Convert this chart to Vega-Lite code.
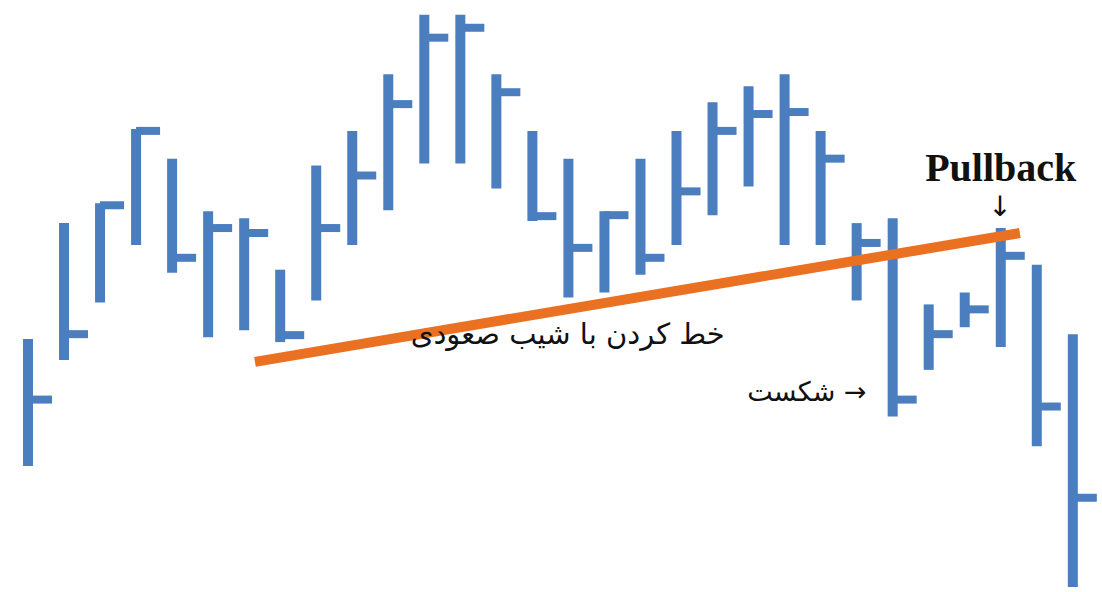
{
  "$schema": "https://vega.github.io/schema/vega-lite/v6.json",
  "autosize": {"type": "fit", "contains": "padding"},
  "width": 1102,
  "height": 592,
  "padding": 0,
  "background": "white",
  "config": {"view": {"stroke": null}, "axis": {"disable": true}},
  "datasets": {
    "bars": [
      {"i": 1, "high": 250, "low": 122, "close": 189},
      {"i": 2, "high": 367, "low": 229, "close": 255},
      {"i": 3, "high": 387, "low": 287, "close": 385},
      {"i": 4, "high": 462, "low": 345, "close": 460},
      {"i": 5, "high": 432, "low": 317, "close": 332},
      {"i": 6, "high": 379, "low": 252, "close": 362},
      {"i": 7, "high": 372, "low": 259, "close": 357},
      {"i": 8, "high": 320, "low": 247, "close": 254},
      {"i": 9, "high": 425, "low": 289, "close": 362},
      {"i": 10, "high": 460, "low": 345, "close": 415},
      {"i": 11, "high": 517, "low": 380, "close": 487},
      {"i": 12, "high": 577, "low": 427, "close": 554},
      {"i": 13, "high": 577, "low": 427, "close": 564},
      {"i": 14, "high": 517, "low": 402, "close": 499},
      {"i": 15, "high": 460, "low": 369, "close": 374},
      {"i": 16, "high": 432, "low": 292, "close": 342},
      {"i": 17, "high": 379, "low": 297, "close": 375},
      {"i": 18, "high": 432, "low": 315, "close": 332},
      {"i": 19, "high": 460, "low": 345, "close": 399},
      {"i": 20, "high": 489, "low": 375, "close": 460},
      {"i": 21, "high": 505, "low": 404, "close": 477},
      {"i": 22, "high": 517, "low": 345, "close": 479},
      {"i": 23, "high": 460, "low": 345, "close": 432},
      {"i": 24, "high": 367, "low": 289, "close": 347},
      {"i": 25, "high": 372, "low": 172, "close": 189},
      {"i": 26, "high": 285, "low": 219, "close": 255},
      {"i": 27, "high": 297, "low": 262, "close": 280},
      {"i": 28, "high": 362, "low": 242, "close": 334},
      {"i": 29, "high": 325, "low": 142, "close": 182},
      {"i": 30, "high": 255, "low": 0, "close": 90}
    ],
    "trend": [
      {"i": 7.3, "p": 227},
      {"i": 28.53, "p": 357}
    ]
  },
  "layer": [
    {
      "data": {"name": "bars"},
      "mark": {"type": "rule", "strokeWidth": 10, "color": "#4A7EBF", "strokeCap": "butt"},
      "encoding": {
        "x": {"field": "i", "type": "quantitative", "scale": {"domain": [0.223, 30.81], "nice": false, "zero": false}},
        "y": {"field": "low", "type": "quantitative", "scale": {"domain": [0, 592], "nice": false, "zero": false}},
        "y2": {"field": "high"}
      }
    },
    {
      "data": {"name": "bars"},
      "mark": {"type": "tick", "orient": "horizontal", "size": 24, "thickness": 8, "xOffset": 12, "color": "#4A7EBF", "opacity": 1},
      "encoding": {
        "x": {"field": "i", "type": "quantitative"},
        "y": {"field": "close", "type": "quantitative"}
      }
    },
    {
      "data": {"name": "trend"},
      "mark": {"type": "line", "strokeWidth": 10, "color": "#EA7121", "strokeCap": "butt"},
      "encoding": {
        "x": {"field": "i", "type": "quantitative"},
        "y": {"field": "p", "type": "quantitative"}
      }
    },
    {
      "data": {"values": [{"i": 15.98, "p": 254, "label": "خط کردن با شیب صعودی"}]},
      "mark": {"type": "text", "font": "DejaVu Sans", "fontSize": 29, "color": "#111111", "align": "center", "baseline": "middle"},
      "encoding": {
        "x": {"field": "i", "type": "quantitative"},
        "y": {"field": "p", "type": "quantitative"},
        "text": {"field": "label"}
      }
    },
    {
      "data": {"values": [{"i": 22.62, "p": 196, "label": "شکست →"}]},
      "mark": {"type": "text", "font": "DejaVu Sans", "fontSize": 27, "color": "#111111", "align": "center", "baseline": "middle"},
      "encoding": {
        "x": {"field": "i", "type": "quantitative"},
        "y": {"field": "p", "type": "quantitative"},
        "text": {"field": "label"}
      }
    },
    {
      "data": {"values": [{"i": 28.0, "p": 422, "label": "Pullback"}]},
      "mark": {"type": "text", "font": "Liberation Serif", "fontWeight": "bold", "fontSize": 40, "color": "#111111", "align": "center", "baseline": "middle"},
      "encoding": {
        "x": {"field": "i", "type": "quantitative"},
        "y": {"field": "p", "type": "quantitative"},
        "text": {"field": "label"}
      }
    },
    {
      "data": {"values": [{"i": 27.98, "p": 382, "label": "↓"}]},
      "mark": {"type": "text", "font": "DejaVu Sans", "fontSize": 28, "color": "#111111", "align": "center", "baseline": "middle"},
      "encoding": {
        "x": {"field": "i", "type": "quantitative"},
        "y": {"field": "p", "type": "quantitative"},
        "text": {"field": "label"}
      }
    }
  ]
}
